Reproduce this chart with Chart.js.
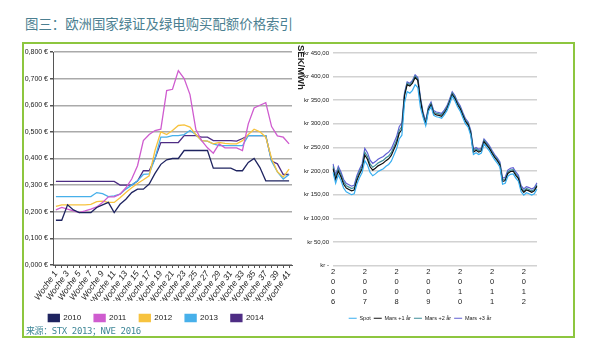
<!DOCTYPE html>
<html>
<head>
<meta charset="utf-8">
<script src="https://cdn.jsdelivr.net/npm/chart.js@4.4.1/dist/chart.umd.min.js"></script>
<style>
  body { margin: 0; width: 600px; height: 353px; background: #fff; position: relative; overflow: hidden; }
  #title { position: absolute; left: 25px; top: 13px; font: 13.4px "Noto Sans CJK SC"; color: #4b7f91; white-space: nowrap; }
  #frame { position: absolute; left: 22px; top: 42px; width: 549px; height: 292px; border: 2px solid #8dc63f; }
  #source { position: absolute; left: 26px; top: 324px; font: 9px "DejaVu Sans Mono", "Noto Sans CJK SC"; letter-spacing: -0.4px; color: #3f8797; white-space: nowrap; }
  #unit { position: absolute; left: 296px; top: 45px; writing-mode: vertical-rl; font: bold 9.5px "Liberation Sans", Arial; color: #222; }
  #leftBox { position: absolute; left: 10px; top: 45px; }
  #rightBox { position: absolute; left: 298px; top: 45px; }
</style>
</head>
<body>
<div id="title">图三：欧洲国家绿证及绿电购买配额价格索引</div>
<div id="frame"></div>
<div id="leftBox"><canvas id="left" width="308" height="287"></canvas></div>
<div id="rightBox"><canvas id="right" width="270" height="286"></canvas></div>
<div id="unit">SEK/MWh</div>
<div id="source">来源：STX 2013；NVE 2016</div>
<script>
var narrow = '"Liberation Sans Narrow", "Liberation Sans", Arial';

// left chart: weekly price per certificate (EUR)
var weekLabels = [];
for (var w = 1; w <= 41; w++) weekLabels.push('Woche ' + w);
var yearNames = ['2010', '2011', '2012', '2013', '2014'];
var yearColors = ['#1f2460', '#cf5ccf', '#f7c33f', '#47b0ea', '#4e2d84'];

var y2010 = [0.168,0.168,0.226,0.207,0.197,0.197,0.197,0.216,0.226,0.235,
  0.197,0.228,0.247,0.272,0.285,0.285,0.304,0.344,0.378,0.395,
  0.400,0.400,0.430,0.430,0.430,0.430,0.430,0.364,0.364,0.364,
  0.364,0.354,0.354,0.385,0.400,0.366,0.316,0.316,0.316,0.316,
  0.316];
var y2011 = [0.207,0.216,0.210,0.203,0.197,0.203,0.210,0.218,0.235,0.256,
  0.256,0.266,0.290,0.323,0.373,0.467,0.490,0.505,0.510,0.655,
  0.660,0.730,0.700,0.640,0.510,0.467,0.440,0.420,0.455,0.440,
  0.440,0.440,0.430,0.530,0.590,0.600,0.610,0.520,0.485,0.480,
  0.455];
var y2012 = [0.220,0.226,0.226,0.226,0.226,0.226,0.228,0.238,0.240,0.235,
  0.235,0.253,0.272,0.290,0.306,0.320,0.335,0.430,0.500,0.490,
  0.505,0.524,0.526,0.518,0.490,0.467,0.465,0.455,0.460,0.457,
  0.455,0.455,0.467,0.490,0.510,0.500,0.480,0.400,0.350,0.330,
  0.360];
var y2013 = [0.257,0.257,0.257,0.257,0.257,0.257,0.257,0.272,0.268,0.257,
  0.260,0.266,0.285,0.300,0.316,0.340,0.342,0.400,0.480,0.480,
  0.486,0.486,0.490,0.505,0.490,0.467,0.465,0.455,0.448,0.448,
  0.448,0.448,0.448,0.486,0.486,0.486,0.486,0.390,0.350,0.323,
  0.340];
var y2014 = [0.314,0.314,0.314,0.314,0.314,0.314,0.314,0.314,0.314,0.314,
  0.314,0.300,0.300,0.300,0.315,0.354,0.354,0.400,0.460,0.460,
  0.460,0.460,0.486,0.486,0.486,0.480,0.480,0.467,0.467,0.467,
  0.467,0.465,0.475,0.486,0.486,0.486,0.486,0.390,0.380,0.340,
  0.340];
var yearSeries = [y2010, y2011, y2012, y2013, y2014];

// right chart: monthly prices Jan 2006 - Jun 2012 (SEK/MWh)
var monthLabels = [];
for (var yr = 2006; yr <= 2012; yr++) {
  for (var mo = 1; mo <= 12; mo++) {
    if (yr === 2012 && mo > 6) break;
    monthLabels.push(yr + '-' + (mo < 10 ? '0' + mo : mo));
  }
}
var spot = [197,174,192,180,164,156,153,150,152,172,186,197,
  222,213,197,190,194,199,202,205,210,214,221,234,
  247,268,276,345,368,365,371,383,377,335,314,296,
  326,336,318,315,314,312,319,328,342,358,349,336,
  327,313,300,293,275,235,239,235,238,257,250,243,
  233,224,217,208,172,174,189,193,194,185,178,156,
  149,154,152,149,152,162];
var mars1 = [205,182,200,188,172,164,161,158,160,180,194,205,
  234,225,209,202,206,211,214,217,222,226,233,246,
  259,280,288,360,383,380,386,398,392,350,318,300,
  330,340,322,319,318,316,323,332,346,362,354,341,
  332,318,305,298,280,240,244,240,243,262,255,248,
  238,229,222,213,178,180,195,199,200,191,184,162,
  155,160,158,155,158,168];
var mars2 = [210,187,205,193,177,169,166,163,165,185,199,210,
  240,231,215,208,212,217,220,223,228,232,239,252,
  265,286,294,363,386,383,389,401,395,353,321,303,
  333,343,325,322,321,319,326,335,349,365,357,344,
  335,321,308,301,283,243,247,243,246,265,258,251,
  241,232,225,216,181,183,198,202,203,194,187,165,
  158,163,161,158,161,171];
var mars3 = [215,192,210,198,182,174,171,168,170,190,204,215,
  248,239,223,216,220,225,228,231,236,240,247,260,
  273,294,302,366,389,386,392,404,398,356,324,306,
  336,346,328,325,324,322,329,338,352,368,360,347,
  338,324,311,304,286,246,250,246,249,268,261,254,
  244,235,228,219,185,187,202,206,207,198,191,169,
  162,167,165,162,165,175];
var priceNames = ['Spot', 'Mars +1 år', 'Mars +2 år', 'Mars +3 år'];
var priceColors = ['#38aef0', '#111111', '#3d8d99', '#5f5fd3'];
var priceSeries = [spot, mars1, mars2, mars3];

var leftSets = yearNames.map(function (n, i) {
  return { label: n, data: yearSeries[i], borderColor: yearColors[i], backgroundColor: yearColors[i],
    borderWidth: 1.3, pointRadius: 0, tension: 0, fill: false };
});

new Chart(document.getElementById('left'), {
  type: 'line',
  data: { labels: weekLabels, datasets: leftSets },
  options: {
    responsive: false, animation: false,
    layout: { padding: { top: 7, right: 26, left: 10, bottom: 0 } },
    plugins: {
      tooltip: { enabled: false },
      legend: {
        position: 'bottom',
        labels: { boxWidth: 11, boxHeight: 7, padding: 13, color: '#222', font: { family: narrow, size: 8 } }
      }
    },
    scales: {
      x: {
        offset: true,
        grid: { drawOnChartArea: false, tickLength: 3, color: '#555', offset: false },
        border: { color: '#555' },
        ticks: {
          autoSkip: false, minRotation: 55, maxRotation: 55, padding: 1, color: '#222',
          font: { family: narrow, size: 8.5, style: 'italic' },
          callback: function (v, i) { return i % 2 === 0 ? weekLabels[i] : ''; }
        },
        afterFit: function (s) { s.height = 36; }
      },
      y: {
        min: 0, max: 0.8,
        grid: { color: '#aaaaaa', lineWidth: 1.5, tickLength: 3, tickColor: '#555' },
        border: { color: '#555' },
        ticks: {
          stepSize: 0.1, padding: 2, color: '#222', font: { family: narrow, size: 7 },
          callback: function (v) { return v.toFixed(3).replace('.', ',') + ' €'; }
        },
        afterFit: function (s) { s.width = 33; }
      }
    }
  }
});

var rightSets = priceNames.map(function (n, i) {
  return { label: n, data: priceSeries[i], borderColor: priceColors[i], backgroundColor: priceColors[i],
    borderWidth: 1.2, pointRadius: 0, tension: 0, fill: false };
});

new Chart(document.getElementById('right'), {
  type: 'line',
  data: { labels: monthLabels, datasets: rightSets },
  options: {
    responsive: false, animation: false,
    layout: { padding: { top: 8, right: 31, left: 5, bottom: 0 } },
    plugins: {
      tooltip: { enabled: false },
      legend: {
        position: 'bottom',
        labels: { usePointStyle: true, pointStyle: 'line', pointStyleWidth: 8, boxHeight: 5, padding: 3,
          color: '#222', font: { family: narrow, size: 5.5 } }
      }
    },
    scales: {
      x: {
        offset: false,
        grid: { display: false, drawTicks: false },
        border: { display: false },
        ticks: {
          autoSkip: false, maxRotation: 0, minRotation: 0, padding: 2, color: '#222',
          font: { family: narrow, size: 7.5, lineHeight: 1.3 },
          callback: function (v, i) { return i % 12 === 0 ? monthLabels[i].slice(0, 4).split('') : ''; }
        },
        afterFit: function (s) { s.height = 47; }
      },
      y: {
        min: 0, max: 450,
        grid: { color: '#d2d2d2', lineWidth: 1.5, drawTicks: false },
        border: { display: false },
        ticks: {
          stepSize: 50, padding: 4, color: '#222', font: { family: narrow, size: 6 },
          callback: function (v) { return v === 0 ? 'kr -' : 'kr ' + v.toFixed(2).replace('.', ','); }
        },
        afterFit: function (s) { s.width = 30; }
      }
    }
  }
});
</script>
</body>
</html>
